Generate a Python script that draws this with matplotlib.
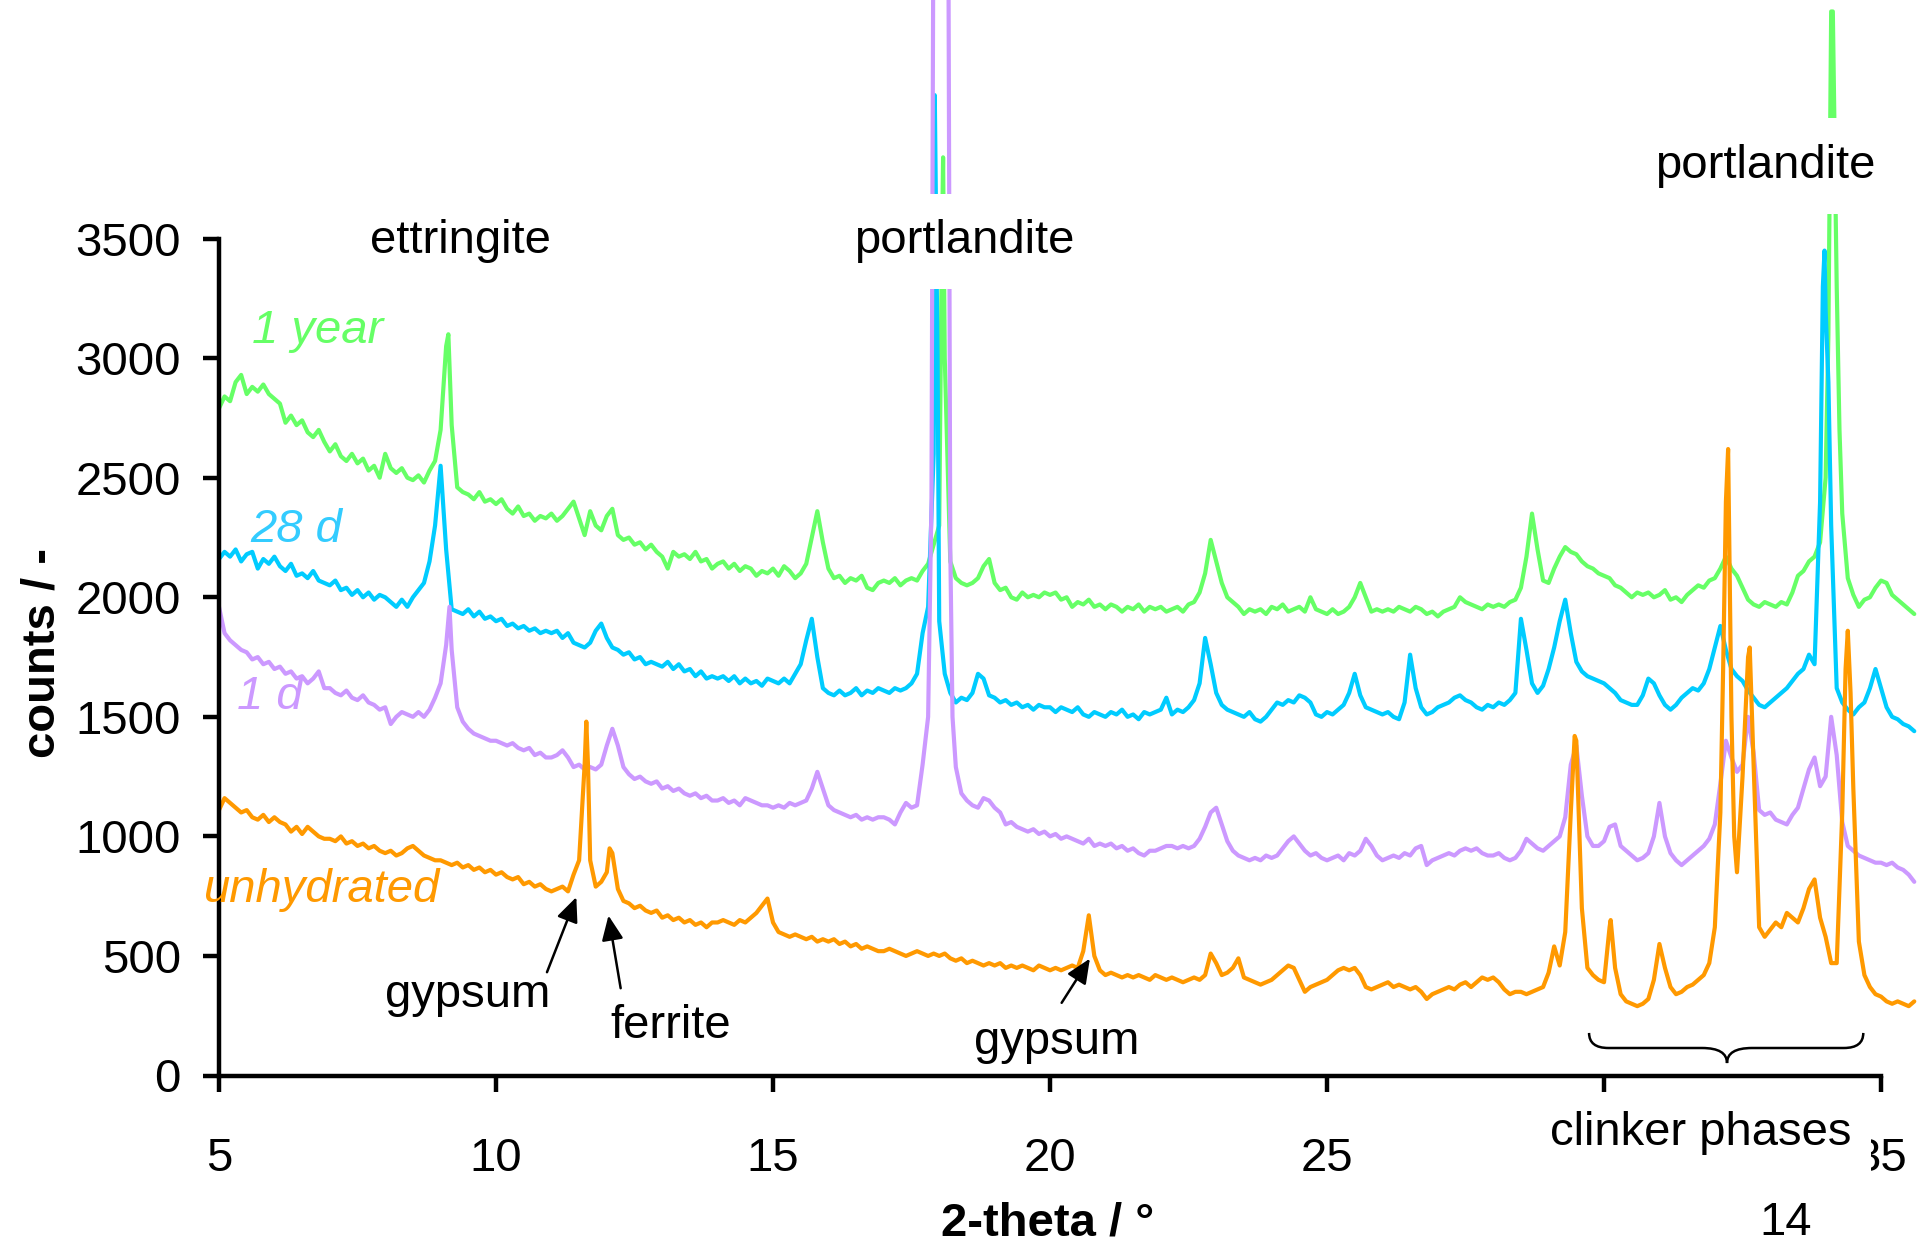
import numpy as np
import matplotlib
matplotlib.use('Agg')
import matplotlib.pyplot as plt
from matplotlib.path import Path
from matplotlib.patches import PathPatch

plt.rcParams['font.family'] = ['Liberation Sans', 'DejaVu Sans']

# scan grid: 2-theta from 5.0 to 35.6 deg in 0.1 deg steps (307 points)
two_theta = np.round(np.arange(5.0, 35.65, 0.1), 2)

# counts, one row per degree
year1_counts = [
    2790, 2840, 2820, 2900, 2930, 2850, 2880, 2860, 2890, 2850,
    2830, 2810, 2730, 2760, 2720, 2740, 2690, 2670, 2700, 2650,
    2610, 2640, 2590, 2570, 2600, 2560, 2580, 2530, 2550, 2500,
    2600, 2540, 2520, 2540, 2500, 2490, 2510, 2480, 2530, 2570,
    2700, 3050, 2720, 2460, 2440, 2430, 2410, 2440, 2400, 2410,
    2390, 2410, 2370, 2350, 2380, 2340, 2350, 2320, 2340, 2330,
    2350, 2320, 2340, 2370, 2400, 2330, 2260, 2360, 2300, 2280,
    2340, 2370, 2260, 2240, 2250, 2220, 2230, 2200, 2220, 2190,
    2170, 2120, 2190, 2170, 2180, 2160, 2190, 2150, 2160, 2120,
    2140, 2150, 2120, 2140, 2110, 2130, 2120, 2090, 2110, 2100,
    2120, 2090, 2130, 2110, 2080, 2100, 2140, 2250, 2360, 2230,
    2120, 2080, 2090, 2060, 2080, 2070, 2090, 2040, 2030, 2060,
    2070, 2060, 2080, 2050, 2070, 2080, 2070, 2110, 2140, 2220,
    2300, 3000, 2150, 2080, 2060, 2050, 2060, 2080, 2130, 2160,
    2060, 2030, 2040, 2000, 1990, 2020, 2000, 2010, 2000, 2020,
    2010, 2020, 1990, 2000, 1960, 1980, 1970, 1990, 1960, 1970,
    1950, 1970, 1960, 1940, 1960, 1950, 1970, 1940, 1960, 1950,
    1960, 1940, 1950, 1960, 1940, 1970, 1980, 2020, 2100, 2240,
    2150, 2060, 2000, 1980, 1960, 1930, 1950, 1940, 1950, 1930,
    1960, 1950, 1970, 1940, 1950, 1960, 1940, 2000, 1950, 1940,
    1930, 1950, 1930, 1940, 1960, 2000, 2060, 2000, 1940, 1950,
    1940, 1950, 1940, 1960, 1950, 1940, 1960, 1950, 1930, 1940,
    1920, 1940, 1950, 1960, 2000, 1980, 1970, 1960, 1950, 1970,
    1960, 1970, 1960, 1980, 1990, 2040, 2170, 2350, 2200, 2070,
    2060, 2120, 2170, 2210, 2190, 2180, 2150, 2130, 2120, 2100,
    2090, 2080, 2050, 2040, 2020, 2000, 2020, 2010, 2020, 2000,
    2010, 2030, 1990, 2000, 1980, 2010, 2030, 2050, 2040, 2070,
    2080, 2120, 2170, 2120, 2090, 2040, 1990, 1970, 1960, 1980,
    1970, 1960, 1980, 1970, 2020, 2090, 2110, 2150, 2170, 2230,
    2500, 4450, 3300, 2350, 2080, 2010, 1960, 1990, 2000, 2040,
    2070, 2060, 2010, 1990, 1970, 1950, 1930,
]
day28_counts = [
    2160, 2190, 2170, 2200, 2150, 2180, 2190, 2120, 2160, 2140,
    2170, 2130, 2110, 2140, 2090, 2100, 2080, 2110, 2070, 2060,
    2050, 2070, 2030, 2040, 2010, 2030, 2000, 2020, 1990, 2010,
    2000, 1980, 1960, 1990, 1960, 2000, 2030, 2060, 2150, 2300,
    2550, 2200, 1950, 1940, 1930, 1950, 1920, 1940, 1910, 1920,
    1900, 1910, 1880, 1890, 1870, 1880, 1860, 1870, 1850, 1860,
    1850, 1860, 1830, 1850, 1810, 1800, 1790, 1810, 1860, 1890,
    1830, 1790, 1780, 1760, 1770, 1740, 1750, 1720, 1730, 1720,
    1710, 1730, 1700, 1720, 1690, 1700, 1670, 1690, 1660, 1670,
    1660, 1670, 1650, 1670, 1640, 1660, 1640, 1650, 1630, 1660,
    1650, 1640, 1660, 1640, 1680, 1720, 1820, 1910, 1750, 1620,
    1600, 1590, 1610, 1590, 1600, 1620, 1590, 1610, 1600, 1620,
    1610, 1600, 1620, 1610, 1620, 1640, 1680, 1850, 1960, 2600,
    1900, 1680, 1600, 1560, 1580, 1570, 1600, 1680, 1660, 1590,
    1580, 1560, 1570, 1550, 1560, 1540, 1550, 1530, 1550, 1540,
    1540, 1520, 1540, 1530, 1520, 1540, 1510, 1500, 1520, 1510,
    1500, 1520, 1510, 1530, 1500, 1510, 1490, 1520, 1510, 1520,
    1530, 1580, 1510, 1530, 1520, 1540, 1570, 1640, 1830, 1720,
    1600, 1550, 1530, 1520, 1510, 1500, 1520, 1490, 1480, 1500,
    1530, 1560, 1550, 1570, 1560, 1590, 1580, 1560, 1510, 1500,
    1520, 1510, 1530, 1550, 1600, 1680, 1590, 1540, 1530, 1520,
    1510, 1520, 1500, 1490, 1560, 1760, 1620, 1540, 1510, 1520,
    1540, 1550, 1560, 1580, 1590, 1570, 1560, 1540, 1530, 1550,
    1540, 1560, 1550, 1570, 1600, 1910, 1780, 1640, 1600, 1630,
    1700, 1790, 1900, 1990, 1850, 1730, 1690, 1670, 1660, 1650,
    1640, 1620, 1600, 1570, 1560, 1550, 1550, 1590, 1660, 1640,
    1590, 1550, 1530, 1550, 1580, 1600, 1620, 1610, 1640, 1700,
    1790, 1880, 1780, 1700, 1670, 1650, 1610, 1580, 1550, 1540,
    1560, 1580, 1600, 1620, 1650, 1680, 1700, 1760, 1720, 2400,
    3200, 2300, 1620, 1560, 1530, 1510, 1540, 1560, 1620, 1700,
    1620, 1540, 1500, 1490, 1470, 1460, 1440,
]
day1_counts = [
    1960, 1850, 1820, 1800, 1780, 1770, 1740, 1750, 1720, 1730,
    1700, 1710, 1680, 1690, 1660, 1670, 1640, 1660, 1690, 1620,
    1620, 1600, 1590, 1610, 1580, 1570, 1590, 1560, 1550, 1530,
    1540, 1470, 1500, 1520, 1510, 1500, 1520, 1500, 1530, 1580,
    1640, 1800, 1780, 1540, 1480, 1450, 1430, 1420, 1410, 1400,
    1400, 1390, 1380, 1390, 1370, 1360, 1370, 1340, 1350, 1330,
    1330, 1340, 1360, 1330, 1290, 1300, 1280, 1290, 1280, 1300,
    1380, 1450, 1380, 1290, 1260, 1240, 1250, 1230, 1220, 1230,
    1200, 1210, 1190, 1200, 1180, 1170, 1180, 1160, 1170, 1150,
    1150, 1160, 1140, 1150, 1130, 1160, 1150, 1140, 1130, 1130,
    1120, 1130, 1120, 1140, 1130, 1140, 1150, 1200, 1270, 1200,
    1130, 1110, 1100, 1090, 1080, 1090, 1070, 1080, 1070, 1080,
    1080, 1070, 1050, 1100, 1140, 1120, 1130, 1300, 1500, 5200,
    5200, 5200, 2200, 1290, 1180, 1150, 1130, 1120, 1160, 1150,
    1120, 1100, 1050, 1060, 1040, 1030, 1020, 1030, 1010, 1020,
    1000, 1010, 990, 1000, 990, 980, 970, 990, 960, 970,
    960, 970, 950, 960, 940, 950, 930, 920, 940, 940,
    950, 960, 960, 950, 960, 950, 960, 990, 1040, 1100,
    1120, 1050, 980, 940, 920, 910, 900, 910, 900, 920,
    910, 920, 950, 980, 1000, 970, 940, 920, 930, 910,
    900, 910, 920, 900, 930, 920, 940, 990, 960, 920,
    900, 910, 920, 910, 930, 920, 950, 960, 880, 900,
    910, 920, 930, 920, 940, 950, 940, 950, 930, 920,
    920, 930, 910, 900, 910, 940, 990, 970, 950, 940,
    960, 980, 1000, 1080, 1300, 1380, 1170, 1000, 960, 960,
    980, 1040, 1050, 960, 940, 920, 900, 910, 930, 1000,
    1140, 1000, 930, 900, 880, 900, 920, 940, 960, 990,
    1050, 1220, 1400, 1330, 1270, 1300, 1500, 1350, 1110, 1090,
    1100, 1070, 1060, 1050, 1090, 1120, 1200, 1280, 1330, 1210,
    1250, 1500, 1340, 1060, 960, 940, 920, 910, 900, 890,
    890, 880, 890, 870, 860, 840, 810,
]
unhydrated_counts = [
    1110, 1160, 1140, 1120, 1100, 1110, 1080, 1070, 1090, 1060,
    1080, 1060, 1050, 1020, 1040, 1010, 1040, 1020, 1000, 990,
    990, 980, 1000, 970, 980, 960, 970, 950, 960, 940,
    930, 940, 920, 930, 950, 960, 940, 920, 910, 900,
    900, 890, 880, 890, 870, 880, 860, 870, 850, 860,
    840, 850, 830, 820, 830, 800, 810, 790, 800, 780,
    770, 780, 790, 770, 840, 900, 1300, 900, 790, 810,
    850, 930, 780, 730, 720, 700, 710, 690, 680, 690,
    660, 670, 650, 660, 640, 650, 630, 640, 620, 640,
    640, 650, 640, 630, 650, 640, 660, 680, 710, 740,
    640, 600, 590, 580, 590, 580, 570, 580, 560, 570,
    560, 570, 550, 560, 540, 550, 530, 540, 530, 520,
    520, 530, 520, 510, 500, 510, 520, 510, 500, 510,
    500, 510, 490, 480, 490, 470, 480, 470, 460, 470,
    460, 470, 450, 460, 450, 460, 450, 440, 460, 450,
    440, 450, 440, 450, 460, 450, 520, 670, 500, 440,
    420, 430, 420, 410, 420, 410, 420, 410, 400, 420,
    410, 400, 410, 400, 390, 400, 410, 400, 420, 510,
    470, 420, 430, 450, 490, 410, 400, 390, 380, 390,
    400, 420, 440, 460, 450, 400, 350, 370, 380, 390,
    400, 420, 440, 450, 440, 450, 420, 370, 360, 370,
    380, 390, 370, 380, 370, 360, 370, 350, 320, 340,
    350, 360, 370, 360, 380, 390, 370, 390, 410, 400,
    410, 390, 360, 340, 350, 350, 340, 350, 360, 370,
    430, 540, 460, 600, 1100, 1400, 700, 450, 420, 400,
    390, 620, 450, 340, 310, 300, 290, 300, 320, 400,
    550, 450, 370, 340, 350, 370, 380, 400, 420, 470,
    620, 1100, 2400, 1500, 850, 1250, 1750, 1300, 620, 580,
    610, 640, 620, 680, 660, 640, 700, 780, 820, 660,
    580, 470, 470, 1100, 1860, 1200, 560, 420, 370, 340,
    330, 310, 300, 310, 300, 290, 310,
]

# extra points read at the sharp peak tops
year1_peak_x = [9.14, 18.04, 18.07, 34.05, 34.13, 34.25]
year1_peak_y = [3100, 3300, 3840, 3100, 4450, 2700]
day28_peak_x = [17.92, 17.97, 33.95, 33.98, 34.05]
day28_peak_y = [4100, 3000, 3300, 3450, 2900]
day1_peak_x = [9.16, 17.86, 18.16, 18.24]
day1_peak_y = [1960, 2400, 5200, 1500]
unhydrated_peak_x = [11.63, 11.66, 12.05, 29.47, 30.12, 32.15, 32.24, 32.35, 32.63, 34.36, 34.45]
unhydrated_peak_y = [1480, 1300, 950, 1420, 650, 1700, 2620, 1000, 1790, 1700, 1600]

colors = {'1 year': '#66FF66', '28 d': '#00CCFF', '1 d': '#CC99FF', 'unhydrated': '#FF9900'}


def merged(counts, peak_x, peak_y):
    assert len(counts) == len(two_theta)
    x = np.concatenate([two_theta, peak_x])
    y = np.concatenate([counts, peak_y])
    order = np.argsort(x, kind='stable')
    return x[order], y[order]


series = [
    ('1 year', year1_counts, year1_peak_x, year1_peak_y),
    ('28 d', day28_counts, day28_peak_x, day28_peak_y),
    ('1 d', day1_counts, day1_peak_x, day1_peak_y),
    ('unhydrated', unhydrated_counts, unhydrated_peak_x, unhydrated_peak_y),
]

fig = plt.figure(figsize=(19.32, 12.56), dpi=100)
ax = fig.add_axes([219 / 1932, 1 - 1075.5 / 1256, 1 - 219 / 1932, 1075.5 / 1256])

for name, counts, px, py in series:
    x, y = merged(counts, px, py)
    ax.plot(x, y, color=colors[name], lw=3.0, solid_joinstyle='round', solid_capstyle='round')

ax.set_xlim(5, 35.92)
ax.set_ylim(0, 4498)
ax.set_xticks([5, 10, 15, 20, 25, 30, 35])
ax.set_yticks([0, 500, 1000, 1500, 2000, 2500, 3000, 3500])
for side in ['top', 'right']:
    ax.spines[side].set_visible(False)
ax.spines['left'].set_bounds(0, 3500)
ax.spines['bottom'].set_bounds(5, 35)
ax.spines['left'].set_linewidth(3.2)
ax.spines['bottom'].set_linewidth(3.2)
ax.tick_params(axis='both', direction='out', length=11.5, width=3.2, labelsize=34)
ax.tick_params(axis='x', pad=33)
ax.tick_params(axis='y', pad=16)

# series names
ax.text(5.6, 3114, '1 year', color=colors['1 year'], fontsize=34, style='italic', va='center')
ax.text(5.56, 2280, '28 d', color='#33CCFF', fontsize=34, style='italic', va='center')
ax.text(5.33, 1585, '1 d', color=colors['1 d'], fontsize=34, style='italic', va='center')
ax.text(4.71, 777, 'unhydrated', color=colors['unhydrated'], fontsize=34, style='italic', va='center')

# phase labels
white_box = dict(boxstyle='square,pad=0.55', fc='white', ec='none')
ax.text(9.36, 3488, 'ettringite', fontsize=34, ha='center', va='center', bbox=white_box, zorder=5)
ax.text(18.45, 3488, 'portlandite', fontsize=34, ha='center', va='center', bbox=white_box, zorder=5)
ax.text(32.91, 3803, 'portlandite', fontsize=34, ha='center', va='center', bbox=white_box, zorder=5)

arrow = dict(arrowstyle='-|>,head_length=0.5,head_width=0.22', lw=1.8, color='black',
             mutation_scale=30, shrinkA=0, shrinkB=0)
ax.text(9.49, 335, 'gypsum', fontsize=34, ha='center', va='center')
ax.annotate('', xy=(11.45, 746), xytext=(10.92, 432), arrowprops=arrow)
ax.text(13.16, 206, 'ferrite', fontsize=34, ha='center', va='center')
ax.annotate('', xy=(12.03, 669), xytext=(12.25, 365), arrowprops=arrow)
ax.text(20.12, 139, 'gypsum', fontsize=34, ha='center', va='center')
ax.annotate('', xy=(20.72, 489), xytext=(20.21, 304), arrowprops=arrow)

# curly brace over the clinker peaks
x0, x1, xm = 29.73, 34.68, 32.22
yt, ym, ytip = 178, 115, 52
r_end, r_tip = 0.35, 0.45
verts = [(x0, yt), (x0, ym), (x0 + r_end, ym), (xm - r_tip, ym), (xm, ym), (xm, ytip),
         (xm, ym), (xm + r_tip, ym), (x1 - r_end, ym), (x1, ym), (x1, yt)]
codes = [Path.MOVETO, Path.CURVE3, Path.CURVE3, Path.LINETO, Path.CURVE3, Path.CURVE3,
         Path.CURVE3, Path.CURVE3, Path.LINETO, Path.CURVE3, Path.CURVE3]
ax.add_patch(PathPatch(Path(verts, codes), fill=False, lw=1.8, color='black', clip_on=False))
ax.text(31.75, -242, 'clinker phases', fontsize=34, ha='center', va='center',
        bbox=dict(boxstyle='square,pad=0.4', fc='white', ec='none'), zorder=10, clip_on=False)

fig.text(1048 / 1932, 1 - 1223 / 1256, '2-theta / °', fontsize=34, fontweight='bold',
         ha='center', va='center')
fig.text(43 / 1932, 1 - 653 / 1256, 'counts / -', fontsize=34, fontweight='bold',
         rotation=90, ha='center', va='center')
fig.text(1786 / 1932, 1 - 1223 / 1256, '14', fontsize=34, ha='center', va='center')

fig.savefig('out.png', dpi=100)
